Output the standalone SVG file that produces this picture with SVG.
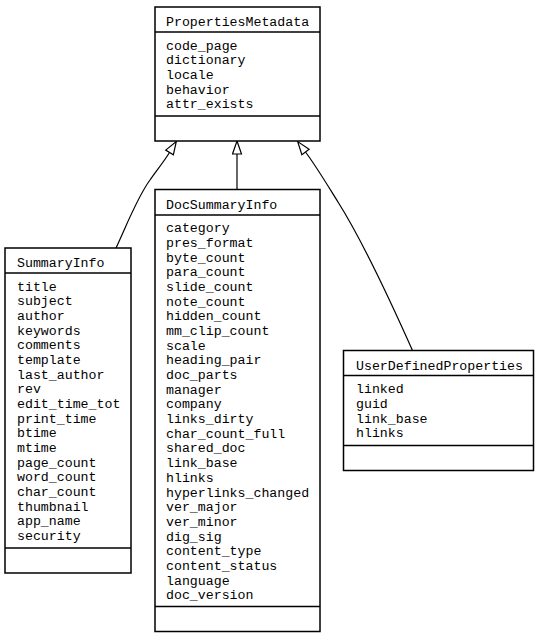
<svg xmlns="http://www.w3.org/2000/svg" width="539" height="637" viewBox="0 0 539 637">
<style>
.box{fill:#fff;stroke:#000;stroke-width:1.5}
.div{stroke:#000;stroke-width:1.5}
.t{font-family:"Liberation Mono","DejaVu Sans Mono",monospace;font-size:13.25px;fill:#000}
.edge{fill:none;stroke:#000;stroke-width:1.2}
</style>
<defs>
<marker id="tri" viewBox="-1 -1 15 11" refX="0" refY="4.5" markerWidth="15" markerHeight="11" markerUnits="userSpaceOnUse" orient="auto">
<path d="M0,0 L13,4.5 L0,9 Z" fill="#fff" stroke="#000" stroke-width="1.2"/>
</marker>
</defs>
<g id="connectors">
<path class="edge" d="M116,248 C128,222 138,196 150,180 C156,171 163,163 169.5,152.5" marker-end="url(#tri)"/>
<path class="edge" d="M237,189.5 L237,154" marker-end="url(#tri)"/>
<path class="edge" d="M412.5,350.5 C390,300 362,240 338,202 C328,186 316,166 305.5,152" marker-end="url(#tri)"/>
</g>
<g id="PropertiesMetadata">
<rect class="box" x="155" y="7" width="165" height="134"/>
<line class="div" x1="155" y1="32" x2="320" y2="32"/>
<line class="div" x1="155" y1="116" x2="320" y2="116"/>
<text class="t" x="166" y="25.5">PropertiesMetadata</text>
<text class="t" y="49.6"><tspan x="166">code_page</tspan><tspan x="166" dy="14.68">dictionary</tspan><tspan x="166" dy="14.68">locale</tspan><tspan x="166" dy="14.68">behavior</tspan><tspan x="166" dy="14.68">attr_exists</tspan></text>
</g>
<g id="SummaryInfo">
<rect class="box" x="5" y="248" width="126" height="325"/>
<line class="div" x1="5" y1="273" x2="131" y2="273"/>
<line class="div" x1="5" y1="548" x2="131" y2="548"/>
<text class="t" x="17" y="267">SummaryInfo</text>
<text class="t" y="290.6"><tspan x="17">title</tspan><tspan x="17" dy="14.68">subject</tspan><tspan x="17" dy="14.68">author</tspan><tspan x="17" dy="14.68">keywords</tspan><tspan x="17" dy="14.68">comments</tspan><tspan x="17" dy="14.68">template</tspan><tspan x="17" dy="14.68">last_author</tspan><tspan x="17" dy="14.68">rev</tspan><tspan x="17" dy="14.68">edit_time_tot</tspan><tspan x="17" dy="14.68">print_time</tspan><tspan x="17" dy="14.68">btime</tspan><tspan x="17" dy="14.68">mtime</tspan><tspan x="17" dy="14.68">page_count</tspan><tspan x="17" dy="14.68">word_count</tspan><tspan x="17" dy="14.68">char_count</tspan><tspan x="17" dy="14.68">thumbnail</tspan><tspan x="17" dy="14.68">app_name</tspan><tspan x="17" dy="14.68">security</tspan></text>
</g>
<g id="DocSummaryInfo">
<rect class="box" x="155" y="189.5" width="165" height="442"/>
<line class="div" x1="155" y1="215" x2="320" y2="215"/>
<line class="div" x1="155" y1="606.5" x2="320" y2="606.5"/>
<text class="t" x="166" y="209">DocSummaryInfo</text>
<text class="t" y="232.3"><tspan x="166">category</tspan><tspan x="166" dy="14.68">pres_format</tspan><tspan x="166" dy="14.68">byte_count</tspan><tspan x="166" dy="14.68">para_count</tspan><tspan x="166" dy="14.68">slide_count</tspan><tspan x="166" dy="14.68">note_count</tspan><tspan x="166" dy="14.68">hidden_count</tspan><tspan x="166" dy="14.68">mm_clip_count</tspan><tspan x="166" dy="14.68">scale</tspan><tspan x="166" dy="14.68">heading_pair</tspan><tspan x="166" dy="14.68">doc_parts</tspan><tspan x="166" dy="14.68">manager</tspan><tspan x="166" dy="14.68">company</tspan><tspan x="166" dy="14.68">links_dirty</tspan><tspan x="166" dy="14.68">char_count_full</tspan><tspan x="166" dy="14.68">shared_doc</tspan><tspan x="166" dy="14.68">link_base</tspan><tspan x="166" dy="14.68">hlinks</tspan><tspan x="166" dy="14.68">hyperlinks_changed</tspan><tspan x="166" dy="14.68">ver_major</tspan><tspan x="166" dy="14.68">ver_minor</tspan><tspan x="166" dy="14.68">dig_sig</tspan><tspan x="166" dy="14.68">content_type</tspan><tspan x="166" dy="14.68">content_status</tspan><tspan x="166" dy="14.68">language</tspan><tspan x="166" dy="14.68">doc_version</tspan></text>
</g>
<g id="UserDefinedProperties">
<rect class="box" x="343.5" y="350.5" width="190" height="120"/>
<line class="div" x1="343.5" y1="375.5" x2="533.5" y2="375.5"/>
<line class="div" x1="343.5" y1="445.5" x2="533.5" y2="445.5"/>
<text class="t" x="356" y="369.5">UserDefinedProperties</text>
<text class="t" y="393.3"><tspan x="356">linked</tspan><tspan x="356" dy="14.68">guid</tspan><tspan x="356" dy="14.68">link_base</tspan><tspan x="356" dy="14.68">hlinks</tspan></text>
</g>
</svg>
